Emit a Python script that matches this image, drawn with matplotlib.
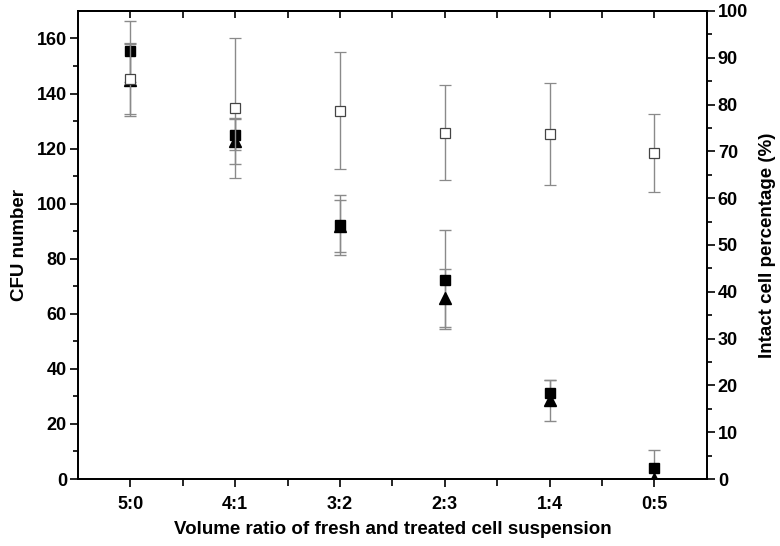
import matplotlib.pyplot as plt
import numpy as np

plt.rcParams['font.family'] = ['Liberation Sans', 'DejaVu Sans']

# dane
ratios = ['5:0', '4:1', '3:2', '2:3', '1:4', '0:5']
cfu_sq = [155.3, 125.1, 92.2, 72.3, 31.4, 3.9]
cfu_sq_err = [11.0, 5.5, 10.9, 18.0, 4.7, 6.6]
cfu_tri = [145.0, 122.7, 92.0, 65.8, 28.6, 0.0]
cfu_tri_err = [13.0, 8.3, 9.4, 10.5, 7.5, 0.0]
intact = [85.5, 79.2, 78.7, 74.0, 73.7, 69.6]
intact_err = [7.6, 15.0, 12.5, 10.2, 10.9, 8.3]

x = np.arange(1, len(ratios) + 1)

fig = plt.figure(figsize=[7.8, 5.46], dpi=100)
ax = fig.add_axes([0.1, 0.1227, 0.806, 0.8573])
ax2 = ax.twinx()

ekw = dict(ecolor='#8a8a8a', elinewidth=1.0, capsize=4, capthick=1.0, linestyle='none')

ax.errorbar(x, cfu_tri, yerr=cfu_tri_err, marker='^', ms=8, mfc='black', mec='black', **ekw)
ax.errorbar(x, cfu_sq, yerr=cfu_sq_err, marker='s', ms=6.5, mfc='black', mec='black', **ekw)
ax2.errorbar(x, intact, yerr=intact_err, marker='s', ms=6.5, mfc='white', mec='#444444', mew=0.9, **ekw)

# osie ############################################################
ax.set_xlim(0.5, 6.5)
ax.set_ylim(0, 170)
ax2.set_ylim(0, 100)

ax.set_xticks(x)
ax.set_xticklabels(ratios)
ax.set_xticks(np.arange(1.5, 6.5, 1), minor=True)
ax.set_yticks(np.arange(0, 161, 20))
ax.set_yticks(np.arange(10, 170, 20), minor=True)
ax2.set_yticks(np.arange(0, 101, 10))
ax2.set_yticks(np.arange(5, 100, 10), minor=True)

ax.tick_params(axis='x', which='both', direction='out', top=False)
ax.tick_params(axis='x', which='major', length=6, width=1.2, pad=6)
ax.tick_params(axis='x', which='minor', length=5, width=1.2)
ax.tick_params(axis='y', which='major', length=6, width=1.2, pad=2)
ax.tick_params(axis='y', which='minor', length=3.5, width=1.2)
ax2.tick_params(axis='y', which='major', length=6, width=1.2, pad=2)
ax2.tick_params(axis='y', which='minor', length=3.5, width=1.2)

# gorne znaczniki do srodka
top = ax.secondary_xaxis('top')
top.set_xticks(x)
top.set_xticks(np.arange(1.5, 6.5, 1), minor=True)
top.tick_params(which='both', direction='in', length=5, width=1.2, labeltop=False)
top.spines['top'].set_linewidth(1.3)

for s in ax.spines.values():
    s.set_linewidth(1.3)
for s in ax2.spines.values():
    s.set_linewidth(1.3)

ftsize = 13
for lab in ax.get_xticklabels() + ax.get_yticklabels() + ax2.get_yticklabels():
    lab.set_fontsize(ftsize)
    lab.set_fontweight('bold')

ax.set_xlabel('Volume ratio of fresh and treated cell suspension', fontsize=13.5, fontweight='bold', labelpad=6)
ax.set_ylabel('CFU number', fontsize=13.5, fontweight='bold', labelpad=6)
ax2.set_ylabel('Intact cell percentage (%)', fontsize=13.5, fontweight='bold', labelpad=8)

plt.savefig('out.png', dpi=100)
